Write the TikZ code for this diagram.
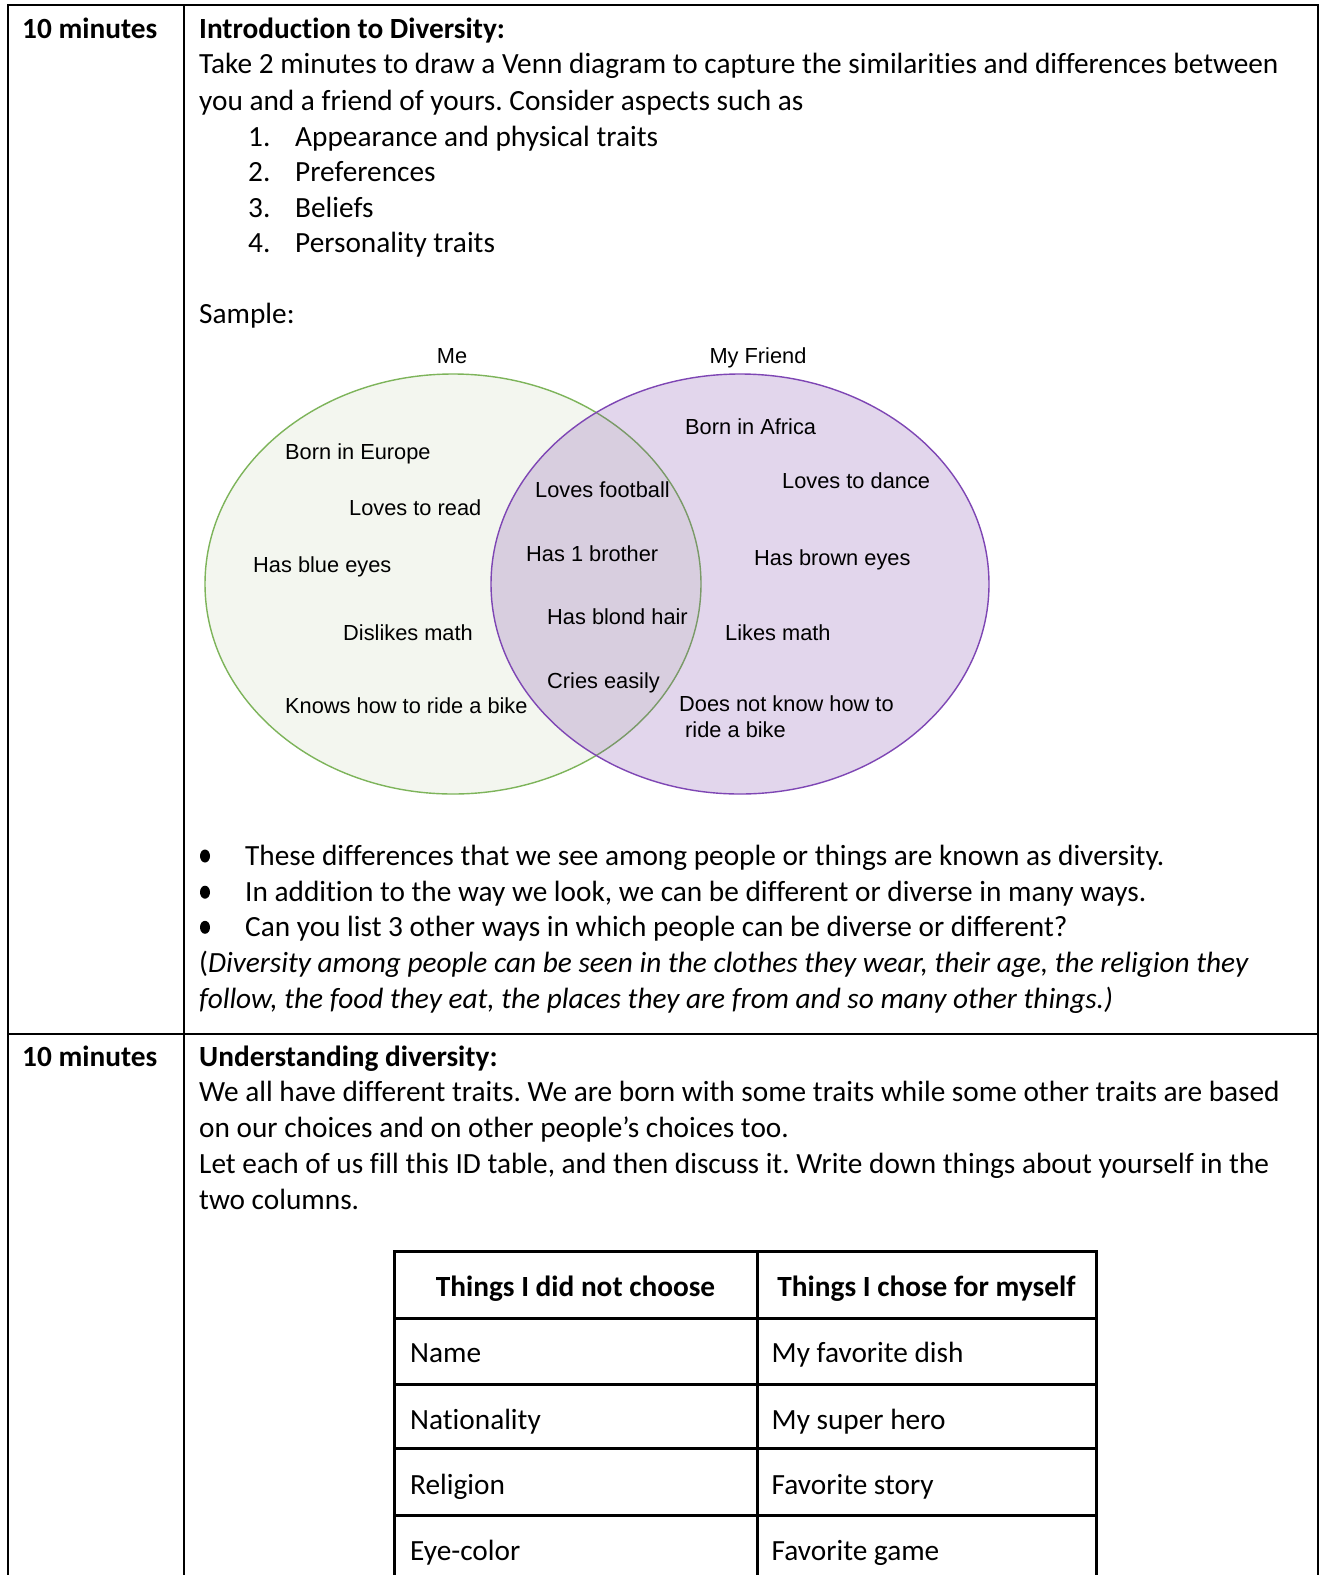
\documentclass[tikz,border=0pt]{standalone}
\usepackage{fontspec}
\usetikzlibrary{shapes.geometric}
\setmainfont[Ligatures=NoCommon]{Carlito}
\newfontfamily\arialf{Liberation Sans}
\definecolor{gstroke}{RGB}{125,180,90}
\definecolor{gfill}{RGB}{243,246,239}
\definecolor{pstroke}{RGB}{126,70,180}
\definecolor{pfill}{RGB}{110,50,160}
\frenchspacing
\begin{document}
\begin{tikzpicture}[x=1pt,y=-1pt,
  body/.style={anchor=base west, inner sep=0pt, font=\fontsize{29.3}{35.8}\selectfont},
  bodyb/.style={anchor=base west, inner sep=0pt, font=\fontsize{29.3}{35.8}\selectfont\bfseries},
  bodyc/.style={anchor=base, inner sep=0pt, font=\fontsize{29.3}{35.8}\selectfont\bfseries},
  venn/.style={anchor=base west, inner sep=0pt, font=\arialf\fontsize{21.8}{26}\selectfont},
  vennc/.style={anchor=base, inner sep=0pt, font=\arialf\fontsize{21.8}{26}\selectfont},
  bul/.style={ellipse, fill=black, inner sep=0pt, minimum width=10pt, minimum height=13pt},
  rule/.style={line width=2.5pt, line join=miter},
  trule/.style={line width=3pt, line join=miter}]
\useasboundingbox[fill=white] (0,0) rectangle (1321,1575);

% outer table
\draw[rule] (8,1575) -- (8,5) -- (1318,5) -- (1318,1575);
\draw[rule] (184,5) -- (184,1575);
\draw[rule] (8,1034) -- (1318,1034);

% row 1
\node[bodyb] (t1) at (22,38.6) {10 minutes};
\node[bodyb] (h1) at (199,38.6) {Introduction to Diversity:};
\node[body] (l1) at (199,73.8) {Take 2 minutes to draw a Venn diagram to capture the similarities and differences between};
\node[body] (l2) at (199,110) {you and a friend of yours. Consider aspects such as};
\node[body] (n1) at (248,146.1) {1.};
\node[body] (i1) at (295,146.1) {Appearance and physical traits};
\node[body] (n2) at (248,181.3) {2.};
\node[body] (i2) at (295,181.3) {Preferences};
\node[body] (n3) at (248,217.5) {3.};
\node[body] (i3) at (295,217.5) {Beliefs};
\node[body] (n4) at (248,252.6) {4.};
\node[body] (i4) at (295,252.6) {Personality traits};
\node[body] (smp) at (199,323.9) {Sample:};

% Venn diagram
\fill[gfill] (453,584) ellipse [x radius=248pt, y radius=210pt];
\draw[gstroke, line width=1.4pt] (453,584) ellipse [x radius=248pt, y radius=210pt];
\fill[pfill, fill opacity=0.2] (740,584) ellipse [x radius=249pt, y radius=210pt];
\draw[pstroke, line width=1.4pt] (740,584) ellipse [x radius=249pt, y radius=210pt];

\node[vennc] (me) at (452,363.5) {Me};
\node[vennc] (fr) at (758,363.5) {My Friend};
\node[venn] (v1) at (285,459.5) {Born in Europe};
\node[venn] (v2) at (349,515.5) {Loves to read};
\node[venn] (v3) at (253,572.5) {Has blue eyes};
\node[venn] (v4) at (343,640.5) {Dislikes math};
\node[venn] (v5) at (285,713.5) {Knows how to ride a bike};
\node[venn] (c1) at (535,497.5) {Loves football};
\node[venn] (c2) at (526,561.5) {Has 1 brother};
\node[venn] (c3) at (547,624.5) {Has blond hair};
\node[venn] (c4) at (547,688.5) {Cries easily};
\node[venn] (f1) at (685,434.5) {Born in Africa};
\node[venn] (f2) at (782,488.5) {Loves to dance};
\node[venn] (f3) at (754,565.5) {Has brown eyes};
\node[venn] (f4) at (725,640.5) {Likes math};
\node[venn] (f5) at (679,711.5) {Does not know how to};
\node[venn] (f6) at (685,737.5) {ride a bike};

% bullets
\node[bul] (b1) at (205,856) {};
\node[body] (bt1) at (245,865.4) {These differences that we see among people or things are known as diversity.};
\node[bul] (b2) at (205,892.2) {};
\node[body] (bt2) at (245,901.6) {In addition to the way we look, we can be different or diverse in many ways.};
\node[bul] (b3) at (205,927.3) {};
\node[body] (bt3) at (245,936.7) {Can you list 3 other ways in which people can be diverse or different?};
\node[body] (it1) at (199,972.9) {(\textit{Diversity among people can be seen in the clothes they wear, their age, the religion they}};
\node[body] (it2) at (199,1008.1) {\textit{follow, the food they eat, the places they are from and so many other things.)}};

% row 2
\node[bodyb] (t2) at (22,1066.3) {10 minutes};
\node[bodyb] (h2) at (199,1066.3) {Understanding diversity:};
\node[body] (m1) at (199,1101.5) {We all have different traits. We are born with some traits while some other traits are based};
\node[body] (m2) at (199,1137.7) {on our choices and on other people’s choices too.};
\node[body] (m3) at (199,1173.8) {Let each of us fill this ID table, and then discuss it. Write down things about yourself in the};
\node[body] (m4) at (199,1209) {two columns.};

% inner table
\draw[trule] (394,1575) -- (394,1251) -- (1096,1251) -- (1096,1575);
\draw[trule] (757.5,1251) -- (757.5,1575);
\foreach \yy in {1318,1384.3,1448.6,1515} \draw[trule] (394,\yy) -- (1096,\yy);

\node[bodyc] (th1) at (575.5,1296.5) {Things I did not choose};
\node[bodyc] (th2) at (926.5,1296.5) {Things I chose for myself};
\node[body] (a1) at (410,1362.5) {Name};
\node[body] (a2) at (410,1429) {Nationality};
\node[body] (a3) at (410,1494.5) {Religion};
\node[body] (a4) at (410,1560.5) {Eye-color};
\node[body] (b1t) at (771.5,1362.5) {My favorite dish};
\node[body] (b2t) at (771.5,1429) {My super hero};
\node[body] (b3t) at (771.5,1494.5) {Favorite story};
\node[body] (b4t) at (771.5,1560.5) {Favorite game};
\end{tikzpicture}
\end{document}
